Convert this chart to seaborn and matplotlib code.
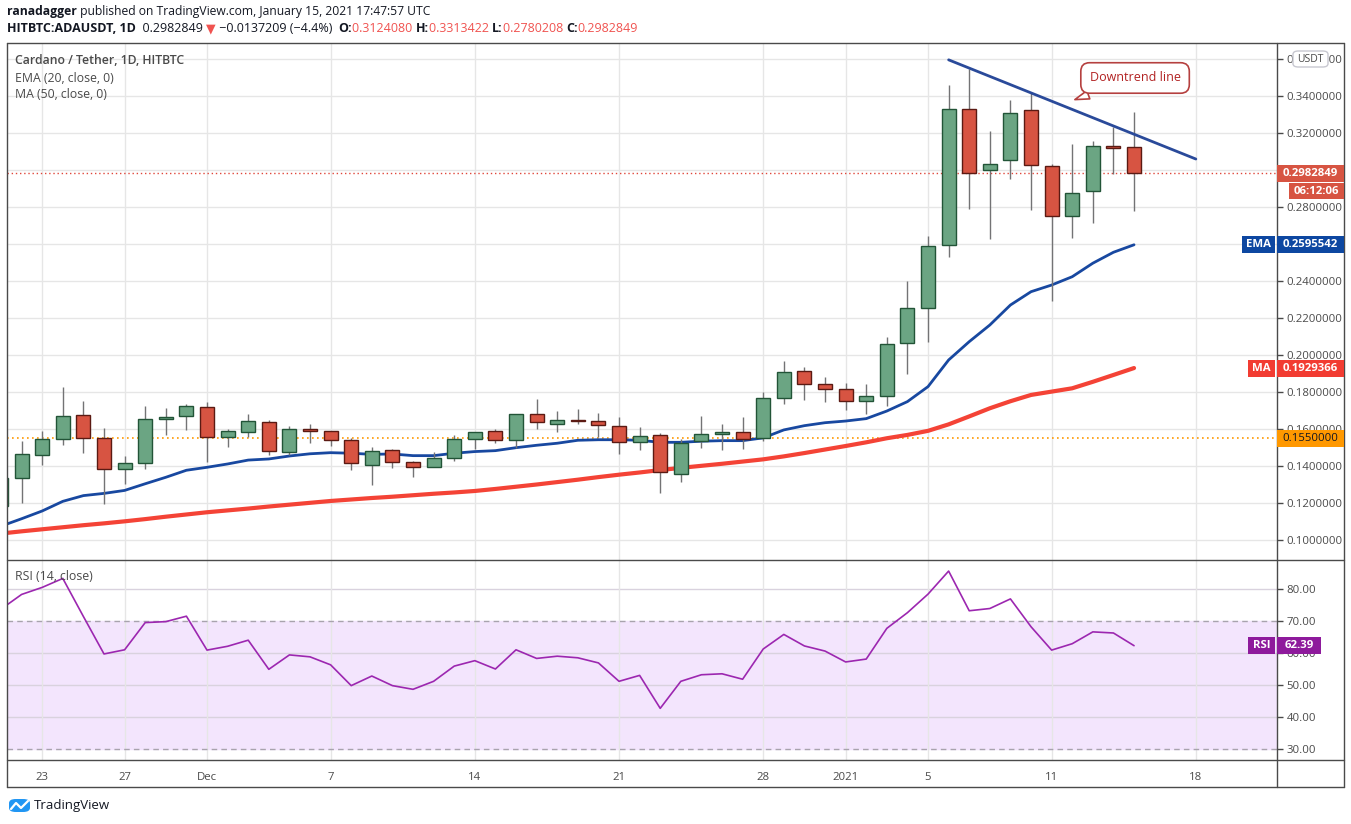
import numpy as np
import pandas as pd
import matplotlib.pyplot as plt
import seaborn as sns
from matplotlib.patches import Rectangle, FancyBboxPatch
from matplotlib.lines import Line2D

W, H = 1351, 824

# daily candles ADA/USDT, 21 Nov 2020 .. 15 Jan 2021
opens = [0.1184, 0.1334, 0.1458, 0.1544, 0.1674, 0.1550, 0.1382, 0.1415, 0.1656, 0.1669,
         0.1717, 0.1555, 0.1582, 0.1636, 0.1474, 0.1598, 0.1588, 0.1539, 0.1404, 0.1485,
         0.1420, 0.1393, 0.1442, 0.1544, 0.1588, 0.1539, 0.1679, 0.1628, 0.1647, 0.1642,
         0.1615, 0.1528, 0.1566, 0.1355, 0.1534, 0.1571, 0.1582, 0.1550, 0.1766, 0.1912,
         0.1842, 0.1815, 0.1750, 0.1777, 0.2063, 0.2252, 0.2593, 0.3328, 0.2999, 0.3052,
         0.3323, 0.3020, 0.2750, 0.2885, 0.3128, 0.3124080]
highs = [0.1370, 0.1535, 0.1589, 0.1827, 0.1751, 0.1605, 0.1454, 0.1724, 0.1714, 0.1735,
         0.1746, 0.1600, 0.1681, 0.1647, 0.1615, 0.1627, 0.1590, 0.1550, 0.1503, 0.1490,
         0.1427, 0.1476, 0.1568, 0.1585, 0.1602, 0.1680, 0.1762, 0.1697, 0.1708, 0.1686,
         0.1665, 0.1611, 0.1577, 0.1544, 0.1670, 0.1627, 0.1665, 0.1800, 0.1968, 0.1935,
         0.1881, 0.1849, 0.1845, 0.2097, 0.2400, 0.2643, 0.3459, 0.3544, 0.3211, 0.3377,
         0.3414, 0.3031, 0.3139, 0.3155, 0.3231, 0.3313422]
lows = [0.1170, 0.1202, 0.1407, 0.1515, 0.1472, 0.1196, 0.1304, 0.1382, 0.1569, 0.1596,
        0.1423, 0.1504, 0.1555, 0.1461, 0.1458, 0.1526, 0.1510, 0.1380, 0.1299, 0.1391,
        0.1342, 0.1393, 0.1429, 0.1492, 0.1526, 0.1496, 0.1602, 0.1585, 0.1629, 0.1559,
        0.1466, 0.1488, 0.1256, 0.1315, 0.1499, 0.1488, 0.1494, 0.1534, 0.1733, 0.1755,
        0.1748, 0.1701, 0.1683, 0.1726, 0.1899, 0.2072, 0.2532, 0.2791, 0.2629, 0.2953,
        0.2785, 0.2294, 0.2634, 0.2715, 0.2977, 0.2780208]
closes = [0.1335, 0.1463, 0.1544, 0.1669, 0.1550, 0.1382, 0.1415, 0.1652, 0.1665, 0.1723,
          0.1555, 0.1588, 0.1642, 0.1480, 0.1598, 0.1588, 0.1539, 0.1415, 0.1480, 0.1420,
          0.1393, 0.1442, 0.1544, 0.1582, 0.1539, 0.1679, 0.1636, 0.1647, 0.1642, 0.1620,
          0.1528, 0.1561, 0.1366, 0.1523, 0.1571, 0.1582, 0.1544, 0.1766, 0.1907, 0.1842,
          0.1815, 0.1750, 0.1777, 0.2058, 0.2254, 0.2588, 0.3328, 0.2982, 0.3031, 0.3307,
          0.3025, 0.2750, 0.2874, 0.3128, 0.3117, 0.2982849]
ema20 = [0.1075, 0.1115, 0.1157, 0.1209, 0.1240, 0.1252, 0.1268, 0.1304, 0.1339, 0.1377,
         0.1393, 0.1411, 0.1432, 0.1438, 0.1454, 0.1466, 0.1472, 0.1469, 0.1463, 0.1465,
         0.1456, 0.1456, 0.1469, 0.1478, 0.1483, 0.1499, 0.1512, 0.1523, 0.1539, 0.1542,
         0.1542, 0.1539, 0.1528, 0.1528, 0.1534, 0.1537, 0.1537, 0.1552, 0.1595, 0.1618,
         0.1634, 0.1643, 0.1656, 0.1697, 0.1748, 0.1829, 0.1973, 0.2072, 0.2162, 0.2270,
         0.2342, 0.2378, 0.2423, 0.2496, 0.2555, 0.2595542]
ma50 = [0.1035, 0.1047, 0.1058, 0.1069, 0.1080, 0.1090, 0.1101, 0.1113, 0.1126, 0.1138,
        0.1150, 0.1160, 0.1170, 0.1181, 0.1191, 0.1201, 0.1211, 0.1219, 0.1227, 0.1234,
        0.1242, 0.1250, 0.1257, 0.1265, 0.1276, 0.1288, 0.1300, 0.1313, 0.1326, 0.1340,
        0.1353, 0.1365, 0.1378, 0.1390, 0.1401, 0.1412, 0.1424, 0.1436, 0.1452, 0.1470,
        0.1489, 0.1508, 0.1528, 0.1550, 0.1568, 0.1590, 0.1625, 0.1668, 0.1712, 0.1750,
        0.1784, 0.1802, 0.1820, 0.1855, 0.1892, 0.1929366]
rsi14 = [73.8, 78.4, 80.6, 83.4, 71.5, 59.8, 61.1, 69.6, 69.9, 71.6,
         61.0, 62.2, 64.1, 55.0, 59.5, 58.9, 56.4, 49.9, 52.9, 49.9,
         48.75, 51.25, 56.0, 57.7, 55.1, 61.1, 58.4, 59.1, 58.6, 57.0,
         51.25, 53.1, 42.8, 51.25, 53.3, 53.6, 51.9, 61.35, 65.9, 62.3,
         60.7, 57.3, 58.2, 67.8, 72.7, 78.5, 85.7, 73.3, 74.0, 77.0,
         68.3, 61.0, 63.0, 66.7, 66.35, 62.39]

tick_days = [2, 6, 10, 16, 23, 30, 37, 41, 45, 51, 58]
tick_labels = ['23', '27', 'Dec', '7', '14', '21', '28', '2021', '5', '11', '18']
price_ticks = [0.10, 0.12, 0.14, 0.16, 0.18, 0.20, 0.22, 0.24, 0.26, 0.28, 0.30, 0.32, 0.34, 0.36]
rsi_ticks = [30, 40, 50, 60, 70, 80]
support_level = 0.155
trend_days = [46.0, 58.0]
trend_prices = [0.3595, 0.3059]

UP, UP_EDGE = '#6ba583', '#225437'
DOWN, DOWN_EDGE = '#d75442', '#5b1a13'
AXIS = '#4a4a4a'
TXT = '#4a4a4a'

sns.set_style('white')
plt.rcParams['font.family'] = ['Open Sans', 'DejaVu Sans']


def fx(x):
    return x / W


def fy(y):
    return 1 - y / H


df = pd.DataFrame({'day': np.arange(len(closes)), 'open': opens, 'high': highs,
                   'low': lows, 'close': closes, 'ema': ema20, 'ma': ma50, 'rsi': rsi14})

fig = plt.figure(figsize=(W / 100, H / 100), dpi=100)
fig.patch.set_facecolor('white')
ax = fig.add_axes([fx(7), fy(560), (1277 - 7) / W, (560 - 43) / H])
rax = fig.add_axes([fx(7), fy(760), (1277 - 7) / W, (760 - 560) / H], sharex=ax)

x_left, x_right = 0.291, 61.94
ax.set_xlim(x_left, x_right)
ax.set_ylim(0.0892, 0.3686)
rax.set_ylim(26.66, 89.16)

for a in (ax, rax):
    for s in a.spines.values():
        s.set_visible(False)
    a.set_xticks(tick_days)
    a.grid(True, axis='x', color='#e6e6e6', lw=1, zorder=0)


def ypix(a, v):
    return H - a.transData.transform((0, v))[1]


# price pane
ax.set_yticks(price_ticks)
# labels that sit fully under a value box are not shown
covered = [closes[-1], ema20[-1], ma50[-1]]
ax.set_yticklabels(['' if min(abs(ypix(ax, t) - ypix(ax, c)) for c in covered) < 8
                    else f'{t:.7f}' for t in price_ticks])
ax.grid(True, axis='y', color='#e6e6e6', lw=1, zorder=0)
ax.set_axisbelow(True)
ax.yaxis.tick_right()
ax.tick_params(axis='y', length=4, width=1, color=AXIS, labelsize=8.2, labelcolor=TXT, pad=3)
ax.tick_params(axis='x', length=0, labelbottom=False)

ax.axhline(support_level, color='#ff9800', lw=1.2, ls=(0, (1, 2)), zorder=1.5)
ax.axhline(closes[-1], color='#e0463a', lw=1, ls=(0, (1, 2)), zorder=1.5)

sns.lineplot(data=df, x='day', y='ma', ax=ax, color='#f44336', lw=3, zorder=2)
sns.lineplot(data=df, x='day', y='ema', ax=ax, color='#1848a0', lw=2, zorder=2)

up = df['close'] >= df['open']
ax.vlines(df['day'], df['low'], df['high'], color='#737375', lw=1, zorder=3)
body_lo = np.minimum(df['open'], df['close'])
body_h = np.maximum((df['close'] - df['open']).abs(), 0.0008)
ax.bar(df['day'], body_h, bottom=body_lo, width=0.68,
       color=np.where(up, UP, DOWN), edgecolor=np.where(up, UP_EDGE, DOWN_EDGE),
       linewidth=1, zorder=4)

ax.plot(trend_days, trend_prices, color='#2a4a9a', lw=2, zorder=5, solid_capstyle='round')
ax.annotate('Downtrend line', xy=(52.0, 0.3375), xytext=(55.05, 0.3497),
            ha='center', va='center', fontsize=9, color='#b22222', zorder=6,
            bbox=dict(boxstyle='round,pad=0.7,rounding_size=0.7', fc='white', ec='#b5403f', lw=1.2),
            arrowprops=dict(arrowstyle='wedge,tail_width=0.7,shrink_factor=0.5',
                            fc='white', ec='#b5403f', lw=1.2))
ax.set_xlabel('')
ax.set_ylabel('')

# rsi pane
rax.axhspan(30, 70, color='#f3e5fd', zorder=0)
rax.set_yticks(rsi_ticks)
rax.yaxis.tick_right()
rax.yaxis.set_major_formatter(plt.FormatStrFormatter('%.2f'))
for v in rsi_ticks:
    if v in (30, 70):
        rax.axhline(v, color='#a8a3ad', lw=1, ls=(0, (4, 3)), zorder=1)
    else:
        rax.axhline(v, color='#d9d2de', lw=1, zorder=0.5)
sns.lineplot(data=df, x='day', y='rsi', ax=rax, color='#9c27b0', lw=1.2, zorder=3)
rax.set_xticklabels(tick_labels)
rax.tick_params(axis='y', length=4, width=1, color=AXIS, labelsize=8.2, labelcolor=TXT, pad=3)
rax.tick_params(axis='x', length=4, width=1, color=AXIS, labelsize=8.2, labelcolor=TXT, pad=5)
rax.set_xlabel('')
rax.set_ylabel('')


# frame lines
def hline(y, x0, x1):
    fig.add_artist(Line2D([fx(x0), fx(x1)], [fy(y), fy(y)], color=AXIS, lw=1))


def vline(x, y0, y1):
    fig.add_artist(Line2D([fx(x), fx(x)], [fy(y0), fy(y1)], color=AXIS, lw=1))


hline(43, 7, 1344)
hline(560, 7, 1344)
hline(760, 7, 1344)
hline(787, 7, 1344)
vline(7, 43, 787)
vline(1277, 43, 787)
vline(1344, 43, 787)

# pane legends
fig.text(fx(15), fy(61), 'Cardano / Tether, 1D, HITBTC', fontsize=8.8, color=TXT,
         fontweight='semibold', va='center')
fig.text(fx(15), fy(78), 'EMA (20, close, 0)', fontsize=8.8, color=TXT, va='center')
fig.text(fx(15), fy(95), 'MA (50, close, 0)', fontsize=8.8, color=TXT, va='center')
fig.text(fx(15), fy(577), 'RSI (14, close)', fontsize=8.8, color=TXT, va='center')


# axis value labels
def box(x0, x1, yc, h, text, fc, tc='white', weight='bold'):
    fig.add_artist(Rectangle((fx(x0), fy(yc + h / 2)), (x1 - x0) / W, h / H,
                             transform=fig.transFigure, facecolor=fc, edgecolor='none', zorder=10))
    fig.text(fx((x0 + x1) / 2), fy(yc), text, ha='center', va='center', fontsize=8.2,
             color=tc, fontweight=weight, zorder=11)


y_last = ypix(ax, closes[-1])
box(1277, 1344, y_last, 17, f'{closes[-1]:.7f}', '#d75442')
box(1289, 1344, y_last + 18, 16, '06:12:06', '#d75442')
y_ema = ypix(ax, ema20[-1])
box(1242, 1275, y_ema, 17, 'EMA', '#0d47a1')
box(1277, 1344, y_ema, 17, f'{ema20[-1]:.7f}', '#0d47a1')
y_ma = ypix(ax, ma50[-1])
box(1248, 1275, y_ma, 17, 'MA', '#f23c32')
box(1277, 1344, y_ma, 17, f'{ma50[-1]:.7f}', '#f23c32')
box(1277, 1344, ypix(ax, support_level), 17, f'{support_level:.7f}', '#ff9800', tc='#131722',
    weight='normal')
y_rsi = ypix(rax, rsi14[-1])
box(1248, 1275, y_rsi, 17, 'RSI', '#8e1a9c')
box(1277, 1321, y_rsi, 17, f'{rsi14[-1]:.2f}', '#8e1a9c')

fig.add_artist(FancyBboxPatch((fx(1293), fy(67)), 35 / W, 16 / H,
                              boxstyle='round,pad=0,rounding_size=0.004',
                              transform=fig.transFigure, fc='white', ec='#c8c8d0', lw=1, zorder=10))
fig.text(fx(1310.5), fy(59), 'USDT', ha='center', va='center', fontsize=7.5, color=TXT, zorder=11)


# header
def segments(x, y, parts, size=9):
    renderer = fig.canvas.get_renderer()
    for txt, color, weight in parts:
        t = fig.text(fx(x), fy(y), txt, color=color, fontweight=weight, fontsize=size,
                     ha='left', va='center')
        x += t.get_window_extent(renderer=renderer).width


RED = '#f05350'
BLACK = '#131722'
segments(7, 12, [('ranadagger', BLACK, 'bold'),
                 (' published on TradingView.com, January 15, 2021 17:47:57 UTC', BLACK, 'normal')],
         size=8.7)
segments(7, 29, [('HITBTC:ADAUSDT, 1D', BLACK, 'bold'),
                 ('  0.2982849 ', BLACK, 'normal'), ('▼', RED, 'normal'),
                 (' \u22120.0137209 (\u22124.4%)  ', BLACK, 'normal'),
                 ('O:', BLACK, 'bold'), ('0.3124080 ', RED, 'normal'),
                 ('H:', BLACK, 'bold'), ('0.3313422 ', RED, 'normal'),
                 ('L:', BLACK, 'bold'), ('0.2780208 ', RED, 'normal'),
                 ('C:', BLACK, 'bold'), ('0.2982849', RED, 'normal')])

# watermark
fig.add_artist(FancyBboxPatch((fx(9), fy(812)), 21 / W, 13 / H,
                              boxstyle='round,pad=0,rounding_size=0.005',
                              transform=fig.transFigure, fc='#2196f3', ec='none', zorder=10))
fig.add_artist(Line2D([fx(11), fx(16), fx(21), fx(28)], [fy(809), fy(803), fy(808), fy(801)],
                      color='white', lw=1.6, zorder=11))
fig.text(fx(34), fy(805), 'TradingView', fontsize=9.5, color=BLACK, va='center')

fig.savefig('out.png', dpi=100)
